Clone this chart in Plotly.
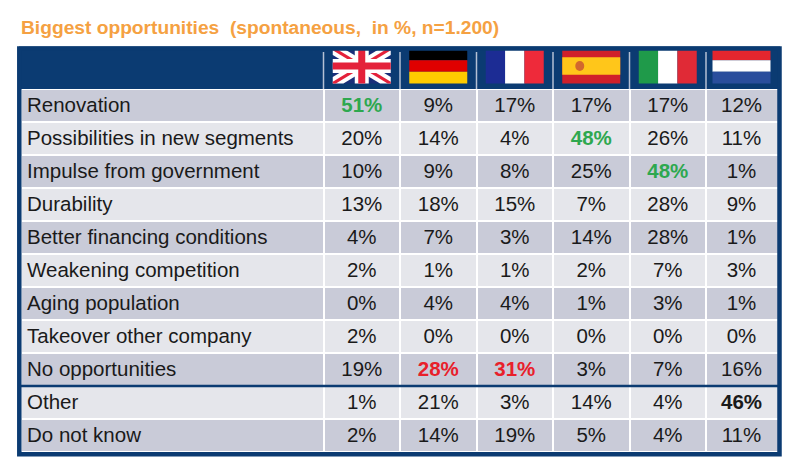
import math
import plotly.graph_objects as go

# Biggest opportunities per country, spontaneous answers in %
categories = ["Renovation", "Possibilities in new segments", "Impulse from government",
              "Durability", "Better financing conditions", "Weakening competition",
              "Aging population", "Takeover other company", "No opportunities",
              "Other", "Do not know"]
countries = ["UK", "DE", "FR", "ES", "IT", "NL"]

uk = [51, 20, 10, 13, 4, 2, 0, 2, 19, 1, 2]
de = [9, 14, 9, 18, 7, 1, 4, 0, 28, 21, 14]
fr = [17, 4, 8, 15, 3, 1, 4, 0, 31, 3, 19]
es = [17, 48, 25, 7, 14, 2, 1, 0, 3, 14, 5]
it = [17, 26, 48, 28, 28, 7, 3, 0, 7, 4, 4]
nl = [12, 11, 1, 9, 1, 3, 1, 0, 16, 46, 11]
values = [uk, de, fr, es, it, nl]

title = "Biggest opportunities\u00a0 (spontaneous,\u00a0 in %, n=1.200)"

# colours
NAVY = "#0B3B72"
ROW_DARK = "#C9CBD8"
ROW_LIGHT = "#E5E6EB"
GREEN = "#2EA84F"
RED = "#E8202A"
TXT = "#1A1A1A"
ORANGE = "#F5A142"

# cells that are emphasised (bold + colour)
highlight = {("Renovation", "UK"): GREEN,
             ("Possibilities in new segments", "ES"): GREEN,
             ("Impulse from government", "IT"): GREEN,
             ("No opportunities", "DE"): RED,
             ("No opportunities", "FR"): RED,
             ("Other", "NL"): TXT}

# geometry (axis units = pixels)
W, H = 800, 472
col_edges = [21, 323.5, 400, 476.5, 553, 629.5, 706, 780]
HEAD_TOP, HEAD_BOT, ROW_H = 47, 89, 33
row_edges = [HEAD_BOT + ROW_H * i for i in range(len(categories) + 1)]
TEXT_DY = 1.5  # text sits a little below the row centre
FONT = "Liberation Sans, Arial, sans-serif"


def poly(pts):
    return "M " + " L ".join("%.2f,%.2f" % p for p in pts) + " Z"


def rect(x0, y0, x1, y1, color):
    return dict(type="rect", x0=x0, y0=y0, x1=x1, y1=y1, fillcolor=color,
                line=dict(width=0), layer="above")


def diag(x0, y0, w, h, t, color, flip=False):
    # diagonal band of half width t clipped to the flag
    L = math.hypot(w, h)
    a = t * L / h
    b = t * L / w
    pts = [(0, 0), (a, 0), (w, h - b), (w, h), (w - a, h), (0, b)]
    if flip:
        pts = [(w - px, py) for px, py in pts]
    return dict(type="path", path=poly([(x0 + px, y0 + py) for px, py in pts]),
                fillcolor=color, line=dict(width=0), layer="above")


def flag(code, cx, y0, w=58, h=35):
    x0 = cx - w / 2
    x1, y1 = x0 + w, y0 + h
    s = []
    if code == "UK":
        s.append(rect(x0, y0, x1, y1, "#1A2F7A"))
        s.append(diag(x0, y0, w, h, 5.5, "white"))
        s.append(diag(x0, y0, w, h, 5.5, "white", flip=True))
        s.append(diag(x0, y0, w, h, 1.6, "#E4213A"))
        s.append(diag(x0, y0, w, h, 1.6, "#E4213A", flip=True))
        s.append(rect(cx - 7, y0, cx + 7, y1, "white"))
        s.append(rect(x0, y0 + h / 2 - 7, x1, y0 + h / 2 + 7, "white"))
        s.append(rect(cx - 3.5, y0, cx + 3.5, y1, "#E4213A"))
        s.append(rect(x0, y0 + h / 2 - 3.5, x1, y0 + h / 2 + 3.5, "#E4213A"))
    elif code in ("DE", "NL"):
        cols = ["#000000", "#E00000", "#FFCC00"] if code == "DE" else ["#E3262E", "white", "#2A4E9C"]
        for k, c in enumerate(cols):
            s.append(rect(x0, y0 + k * h / 3, x1, y0 + (k + 1) * h / 3, c))
    elif code in ("FR", "IT"):
        cols = ["#1C2C94", "white", "#EE2A3A"] if code == "FR" else ["#1F9A4A", "white", "#E02A36"]
        for k, c in enumerate(cols):
            s.append(rect(x0 + k * w / 3, y0, x0 + (k + 1) * w / 3, y1, c))
    elif code == "ES":
        s.append(rect(x0, y0, x1, y1, "#D0202A"))
        s.append(rect(x0, y0 + h / 4, x1, y0 + 3 * h / 4, "#FFC61A"))
        s.append(dict(type="circle", x0=x0 + 13, y0=y0 + h / 2 - 5, x1=x0 + 22, y1=y0 + h / 2 + 5,
                      fillcolor="#D2682E", line=dict(width=0), layer="above"))
    return s


fig = go.Figure()

# cell backgrounds, alternating rows
z = [[i % 2] * (len(countries) + 1) for i in range(len(categories))]
fig.add_trace(go.Heatmap(x=col_edges, y=row_edges, z=z, zmin=0, zmax=1,
                         colorscale=[[0, ROW_DARK], [1, ROW_LIGHT]], showscale=False,
                         xgap=2, ygap=2, hoverinfo="skip"))

# row labels
row_mid = [(row_edges[i] + row_edges[i + 1]) / 2 + TEXT_DY for i in range(len(categories))]
fig.add_trace(go.Scatter(x=[col_edges[0] + 6] * len(categories), y=row_mid, text=categories,
                         mode="text", textposition="middle right",
                         textfont=dict(family=FONT, size=20.5, color=TXT), hoverinfo="skip"))

# values
xs, ys, txt, clr = [], [], [], []
for j, c in enumerate(countries):
    cx = (col_edges[j + 1] + min(col_edges[j + 2], 777)) / 2
    for i, cat in enumerate(categories):
        xs.append(cx)
        ys.append(row_mid[i])
        v = "%d%%" % values[j][i]
        if (cat, c) in highlight:
            txt.append("<b>" + v + "</b>")
            clr.append(highlight[(cat, c)])
        else:
            txt.append(v)
            clr.append(TXT)
fig.add_trace(go.Scatter(x=xs, y=ys, text=txt, mode="text", textposition="middle center",
                         textfont=dict(family=FONT, size=20.5, color=clr), hoverinfo="skip"))

shapes = []
# header band
shapes.append(dict(type="rect", x0=19, y0=HEAD_TOP - 0.5, x1=780, y1=HEAD_BOT,
                   fillcolor=NAVY, line=dict(width=0), layer="below"))
for x in col_edges[1:-1]:
    shapes.append(dict(type="line", x0=x, x1=x, y0=HEAD_TOP + 5, y1=HEAD_BOT,
                       line=dict(color="#B4C0D4", width=1.5), layer="above"))
for j, c in enumerate(countries):
    cx = (col_edges[j + 1] + min(col_edges[j + 2], 777)) / 2
    shapes += flag(c, cx, HEAD_TOP + 1.5)
# divider before "Other"
shapes.append(dict(type="line", x0=19, x1=780, y0=row_edges[9], y1=row_edges[9],
                   line=dict(color=NAVY, width=2.5), layer="above"))
# outer frame
shapes.append(dict(type="rect", x0=19.3, y0=HEAD_TOP + 1.5, x1=779.5, y1=row_edges[-1] + 2.3,
                   line=dict(color=NAVY, width=4.5), fillcolor="rgba(0,0,0,0)", layer="above"))

fig.update_layout(
    width=W, height=H, margin=dict(l=0, r=0, t=0, b=0),
    paper_bgcolor="white", plot_bgcolor="white", showlegend=False,
    xaxis=dict(range=[0, W], visible=False, fixedrange=True),
    yaxis=dict(range=[H, 0], visible=False, fixedrange=True),
    shapes=shapes,
    annotations=[dict(text="<b>" + title + "</b>", x=19, y=27, xref="x", yref="y",
                      xanchor="left", yanchor="middle", showarrow=False,
                      font=dict(family=FONT, size=19.2, color=ORANGE))],
)

fig.write_html("out.html", config={"displayModeBar": False},
               post_script="document.body.style.margin = '0px';")
